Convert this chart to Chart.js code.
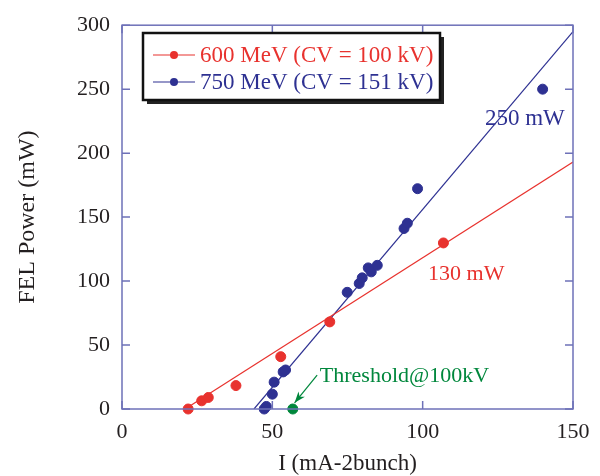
<!DOCTYPE html>
<html>
<head>
<meta charset="utf-8">
<script src="https://cdn.jsdelivr.net/npm/chart.js@4.4.1/dist/chart.umd.min.js"></script>
<style>
  html, body { margin: 0; padding: 0; background: #fff; }
  #wrap { width: 600px; height: 476px; position: relative; }
</style>
</head>
<body>
<div id="wrap"><canvas id="fel" width="600" height="476"></canvas></div>
<script>
// measured points, I (mA-2bunch) vs FEL power (mW)
const red600X = [22.0, 26.5, 28.7, 37.9, 52.8, 69.1, 106.9];
const red600Y = [0, 6.4, 9.0, 18.3, 40.9, 68.1, 129.8];

const blue750X = [47.3, 48.0, 50.0, 50.6, 53.6, 54.4, 74.9, 78.9, 79.9, 81.9, 82.9, 84.9, 93.8, 94.9, 98.3, 139.9];
const blue750Y = [0, 2.0, 11.6, 21.0, 29.0, 30.5, 91.2, 98.1, 102.5, 110.3, 107.2, 112.3, 141.1, 145.2, 172.2, 250];

const thresholdX = [56.8];
const thresholdY = [0];

// straight-line fits
const fit600X = [21, 150];
const fit600Y = [0, 193];
const fit750X = [43.9, 150];
const fit750Y = [0, 295];

const xTicks = [0, 50, 100, 150];
const yTicks = [0, 50, 100, 150, 200, 250, 300];

const COLORS = {
  red: "#e8322e",
  blue: "#2e3192",
  green: "#00873c",
  axis: "#6e71b8",
  text: "#231f20",
};
const SERIF = "'Liberation Serif', 'DejaVu Serif', serif";

function pts(xs, ys) {
  return xs.map((x, i) => ({ x: x, y: ys[i] }));
}

// frame with inward ticks on all four sides, legend box and text notes
const framePlugin = {
  id: "frame",
  afterDraw(chart) {
    const ctx = chart.ctx;
    const a = chart.chartArea;
    const xs = chart.scales.x;
    const ys = chart.scales.y;
    const tl = 8;
    ctx.save();
    ctx.strokeStyle = COLORS.axis;
    ctx.lineWidth = 1.5;
    ctx.strokeRect(a.left, a.top, a.right - a.left, a.bottom - a.top);
    ctx.beginPath();
    xTicks.forEach((v) => {
      const p = xs.getPixelForValue(v);
      ctx.moveTo(p, a.bottom); ctx.lineTo(p, a.bottom - tl);
      ctx.moveTo(p, a.top); ctx.lineTo(p, a.top + tl);
    });
    yTicks.forEach((v) => {
      const p = ys.getPixelForValue(v);
      ctx.moveTo(a.left, p); ctx.lineTo(a.left + tl, p);
      ctx.moveTo(a.right, p); ctx.lineTo(a.right - tl, p);
    });
    ctx.stroke();

    // notes
    ctx.textBaseline = "middle";
    ctx.textAlign = "left";
    ctx.font = "23px " + SERIF;
    ctx.fillStyle = COLORS.blue;
    ctx.fillText("250 mW", xs.getPixelForValue(120.7), ys.getPixelForValue(226.5));
    ctx.font = "22px " + SERIF;
    ctx.fillStyle = COLORS.red;
    ctx.fillText("130 mW", xs.getPixelForValue(101.8), ys.getPixelForValue(105.5));
    ctx.fillStyle = COLORS.green;
    ctx.fillText("Threshold@100kV", xs.getPixelForValue(65.8), ys.getPixelForValue(25.4));

    // arrow to threshold point
    const x0 = xs.getPixelForValue(64.9), y0 = ys.getPixelForValue(26.5);
    const x1 = xs.getPixelForValue(57.4), y1 = ys.getPixelForValue(4.8);
    ctx.strokeStyle = COLORS.green;
    ctx.fillStyle = COLORS.green;
    ctx.lineWidth = 1.2;
    ctx.beginPath();
    ctx.moveTo(x0, y0); ctx.lineTo(x1, y1);
    ctx.stroke();
    const ang = Math.atan2(y1 - y0, x1 - x0);
    ctx.beginPath();
    ctx.moveTo(x1, y1);
    ctx.lineTo(x1 - 12 * Math.cos(ang - 0.35), y1 - 12 * Math.sin(ang - 0.35));
    ctx.lineTo(x1 - 8 * Math.cos(ang), y1 - 8 * Math.sin(ang));
    ctx.lineTo(x1 - 12 * Math.cos(ang + 0.35), y1 - 12 * Math.sin(ang + 0.35));
    ctx.closePath();
    ctx.fill();

    // legend
    const lx = 143, ly = 33, lw = 297, lh = 67;
    ctx.fillStyle = "#222";
    ctx.fillRect(lx + 4, ly + 4, lw, lh);
    ctx.fillStyle = "#fff";
    ctx.fillRect(lx, ly, lw, lh);
    ctx.strokeStyle = "#111";
    ctx.lineWidth = 2.5;
    ctx.strokeRect(lx, ly, lw, lh);
    const rows = [
      { label: chart.data.datasets[0].label, color: COLORS.red, y: ly + 22 },
      { label: chart.data.datasets[1].label, color: COLORS.blue, y: ly + 49 },
    ];
    ctx.font = "23px " + SERIF;
    rows.forEach((r) => {
      ctx.strokeStyle = r.color;
      ctx.fillStyle = r.color;
      ctx.lineWidth = 1.2;
      ctx.beginPath();
      ctx.moveTo(lx + 10, r.y); ctx.lineTo(lx + 52, r.y);
      ctx.stroke();
      ctx.beginPath();
      ctx.arc(lx + 31, r.y, 4, 0, Math.PI * 2);
      ctx.fill();
      ctx.fillText(r.label, lx + 57, r.y + 1);
    });
    ctx.restore();
  },
};

new Chart(document.getElementById("fel"), {
  type: "scatter",
  data: {
    datasets: [
      {
        label: "600 MeV (CV = 100 kV)",
        data: pts(red600X, red600Y),
        backgroundColor: COLORS.red,
        borderColor: COLORS.red,
        pointRadius: 5,
        clip: false,
      },
      {
        label: "750 MeV (CV = 151 kV)",
        data: pts(blue750X, blue750Y),
        backgroundColor: COLORS.blue,
        borderColor: COLORS.blue,
        pointRadius: 5,
        clip: false,
      },
      {
        label: "Threshold",
        data: pts(thresholdX, thresholdY),
        backgroundColor: COLORS.green,
        borderColor: COLORS.green,
        pointRadius: 5,
        clip: false,
      },
      {
        label: "fit 600",
        data: pts(fit600X, fit600Y),
        showLine: true,
        borderColor: COLORS.red,
        borderWidth: 1.2,
        pointRadius: 0,
      },
      {
        label: "fit 750",
        data: pts(fit750X, fit750Y),
        showLine: true,
        borderColor: COLORS.blue,
        borderWidth: 1.2,
        pointRadius: 0,
      },
    ],
  },
  options: {
    responsive: false,
    animation: false,
    layout: { padding: { left: 13, right: 27, top: 20, bottom: 0 } },
    plugins: { legend: { display: false }, tooltip: { enabled: false } },
    scales: {
      x: {
        type: "linear",
        min: 0,
        max: 150,
        afterBuildTicks: (s) => { s.ticks = xTicks.map((v) => ({ value: v })); },
        afterFit: (s) => { s.height = 67; },
        ticks: { color: COLORS.text, font: { family: SERIF, size: 22 }, padding: 10, maxRotation: 0 },
        grid: { display: false, drawTicks: false },
        border: { display: false },
        title: { display: true, text: "I (mA-2bunch)", color: COLORS.text, font: { family: SERIF, size: 23 }, padding: { top: 0, bottom: -2 } },
      },
      y: {
        type: "linear",
        min: 0,
        max: 300,
        afterBuildTicks: (s) => { s.ticks = yTicks.map((v) => ({ value: v })); },
        afterFit: (s) => { s.width = 109; },
        ticks: { color: COLORS.text, font: { family: SERIF, size: 22 }, padding: 12 },
        grid: { display: false, drawTicks: false },
        border: { display: false },
        title: { display: true, text: "FEL Power (mW)", color: COLORS.text, font: { family: SERIF, size: 24 }, padding: 0 },
      },
    },
  },
  plugins: [framePlugin],
});
</script>
</body>
</html>
